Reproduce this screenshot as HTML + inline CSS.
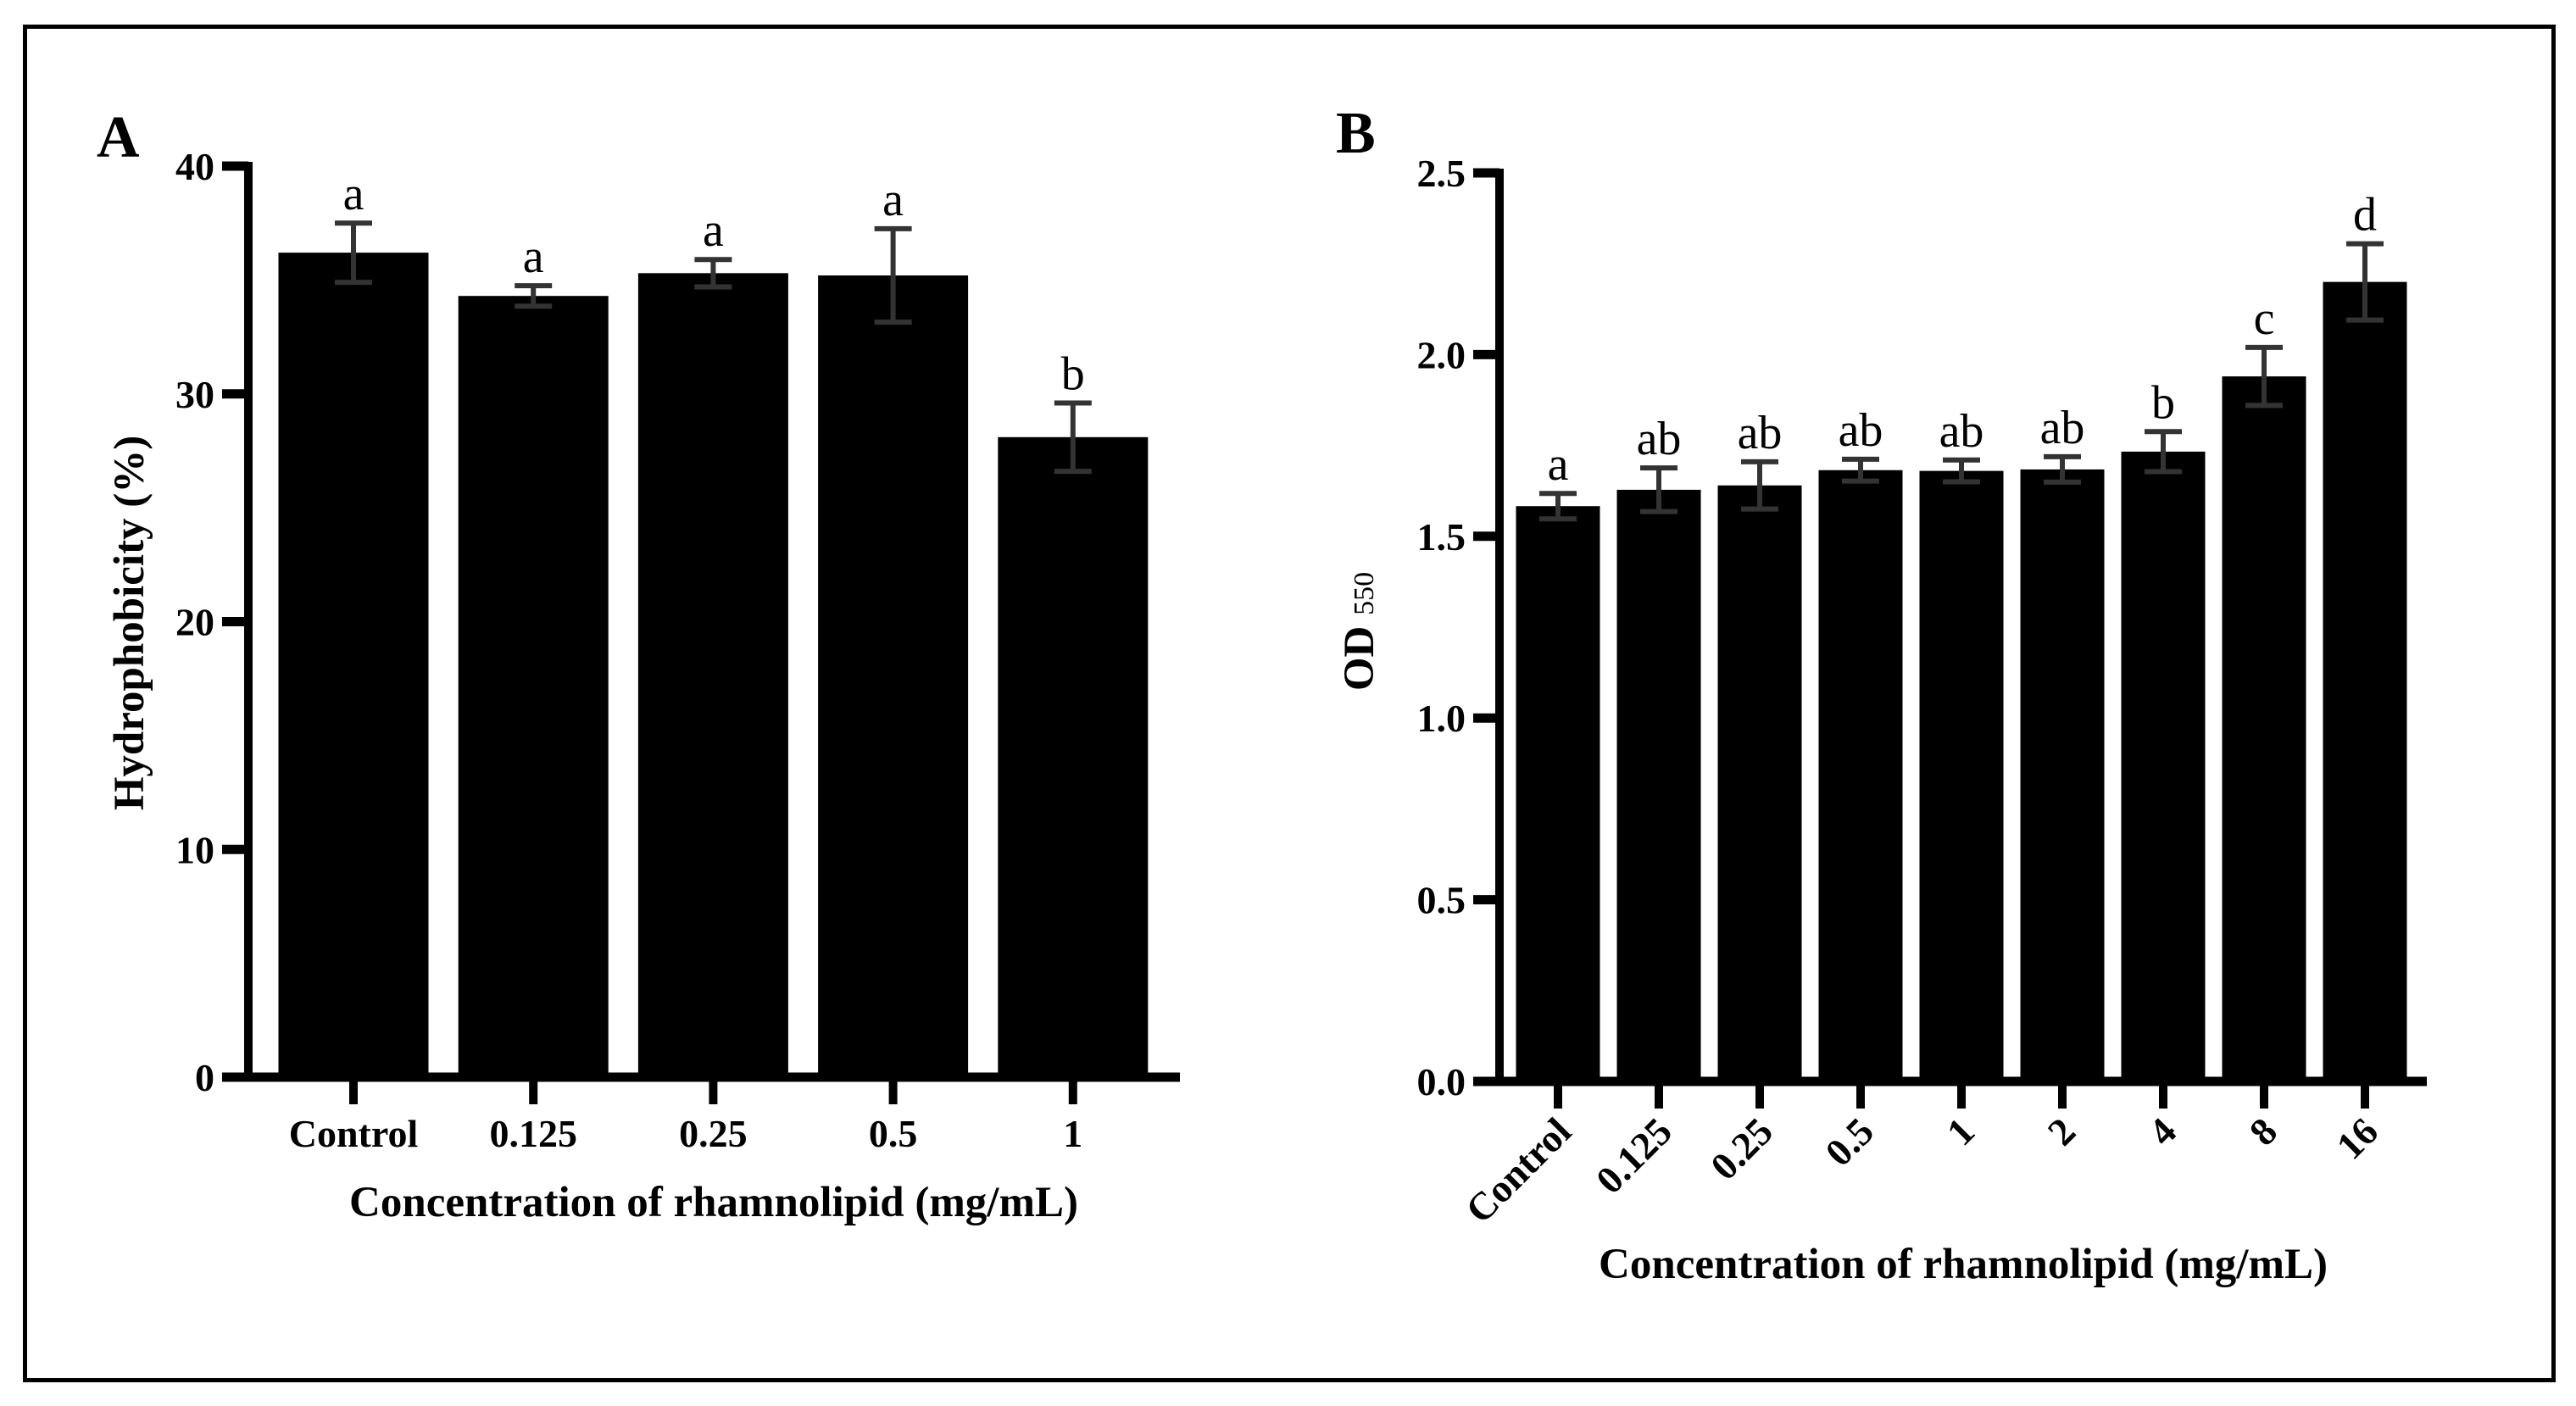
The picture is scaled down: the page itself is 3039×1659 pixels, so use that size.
<!DOCTYPE html>
<html><head><meta charset="utf-8"><style>
html,body{margin:0;padding:0;background:#fff;}
svg{display:block;font-family:"Liberation Serif",serif;}
.tick{font-weight:bold;font-size:46px;}
.ttl{font-weight:bold;font-size:51px;}
.sig{font-size:56px;}
</style></head><body>
<svg id="fig" width="3039" height="1659" viewBox="0 0 3039 1659" xmlns="http://www.w3.org/2000/svg">
<rect x="29.5" y="31.5" width="2983" height="1597" fill="none" stroke="#000" stroke-width="5"/>
<g id="pa"></g>
<g id="pb"></g>
</svg>
<script>
const catsA = ["Control","0.125","0.25","0.5","1"];
const valsA = [36.2,34.3,35.3,35.2,28.1];
const errA = [1.3,0.45,0.6,2.05,1.5];
const sigA = ["a","a","a","a","b"];
const ticksA = [0,10,20,30,40];

const catsB = ["Control","0.125","0.25","0.5","1","2","4","8","16"];
const valsB = [1.583,1.628,1.64,1.682,1.68,1.684,1.733,1.94,2.20];
const errB = [0.035,0.06,0.065,0.03,0.03,0.035,0.055,0.08,0.105];
const sigB = ["a","ab","ab","ab","ab","ab","b","c","d"];
const ticksB = [0,0.5,1.0,1.5,2.0,2.5];

const NS="http://www.w3.org/2000/svg";
function mk(parent,tag,attrs,text){const e=document.createElementNS(NS,tag);for(const k in attrs)e.setAttribute(k,attrs[k]);if(text!==undefined)e.textContent=text;parent.appendChild(e);return e;}

function panel(g,cfg){
  const {cats,vals,errs,sigs,ticks,ymax,axX,y0,yTop,xEnd,c0,step,bw,rot,dec}=cfg;
  const ys=v=>y0-(v/ymax)*(y0-yTop);
  const xs=i=>c0+i*step;
  vals.forEach((v,i)=>{
    const r=mk(g,'rect',{x:xs(i)-bw/2,y:ys(v),width:bw,height:y0-ys(v),fill:'#000'});
    
    
    const top=ys(v+errs[i]),bot=ys(v-errs[i]);
    const eg=mk(g,'g',{stroke:'#333','stroke-width':6});
    
    
    mk(eg,'line',{x1:xs(i),x2:xs(i),y1:top,y2:bot});
    mk(eg,'line',{x1:xs(i)-22,x2:xs(i)+22,y1:top,y2:top});
    mk(eg,'line',{x1:xs(i)-22,x2:xs(i)+22,y1:bot,y2:bot});
    const t=mk(g,'text',{x:xs(i),y:top-16,'text-anchor':'middle',class:'sig'},sigs[i]);
    
    
  });
  const ya=mk(g,'line',{x1:axX,x2:axX,y1:yTop-5,y2:y0+5,stroke:'#000','stroke-width':10});
  
  
  const xa=mk(g,'line',{x1:axX-5,x2:xEnd,y1:y0,y2:y0,stroke:'#000','stroke-width':11});
  
  
  ticks.forEach(t=>{
    mk(g,'line',{x1:axX-31,x2:axX,y1:ys(t),y2:ys(t),stroke:'#000','stroke-width':11});
    const l=mk(g,'text',{x:axX-40,y:ys(t)+16,'text-anchor':'end',class:'tick'},t.toFixed(dec));
    
    
  });
  cats.forEach((c,i)=>{
    mk(g,'line',{x1:xs(i),x2:xs(i),y1:y0,y2:y0+32,stroke:'#000','stroke-width':10});
    let l;
    if(rot){
      l=mk(g,'text',{transform:`translate(${xs(i)+18},${y0+62}) rotate(-45)`,'text-anchor':'end',class:'tick'},c);
    } else {
      l=mk(g,'text',{x:xs(i),y:y0+82,'text-anchor':'middle',class:'tick'},c);
    }
    
    
  });
}

const pa=document.getElementById('pa');
panel(pa,{cats:catsA,vals:valsA,errs:errA,sigs:sigA,ticks:ticksA,ymax:40,axX:293,y0:1271,yTop:196,xEnd:1392,c0:417,step:212.2,bw:177,rot:false,dec:0});
const pb=document.getElementById('pb');
panel(pb,{cats:catsB,vals:valsB,errs:errB,sigs:sigB,ticks:ticksB,ymax:2.5,axX:1769,y0:1276,yTop:204,xEnd:2863,c0:1838,step:119,bw:99,rot:true,dec:1});

let e;
e=mk(pa,'text',{x:842,y:1435,'text-anchor':'middle',class:'ttl'},'Concentration of rhamnolipid (mg/mL)');


e=mk(pa,'text',{transform:'translate(169,735) rotate(-90)','text-anchor':'middle',class:'ttl'},'Hydrophobicity (%)');


e=mk(pa,'text',{x:114,y:185,style:'font-weight:bold;font-size:70px'},'A');


e=mk(pb,'text',{x:2316,y:1508,'text-anchor':'middle',class:'ttl'},'Concentration of rhamnolipid (mg/mL)');


e=mk(pb,'text',{transform:'translate(1620,745) rotate(-90)','text-anchor':'middle',class:'ttl'});


mk(e,'tspan',{},'OD ');
mk(e,'tspan',{style:'font-size:34px;font-weight:normal'},'550');
e=mk(pb,'text',{x:1576,y:180,style:'font-weight:bold;font-size:70px'},'B');


</script>
</body></html>
